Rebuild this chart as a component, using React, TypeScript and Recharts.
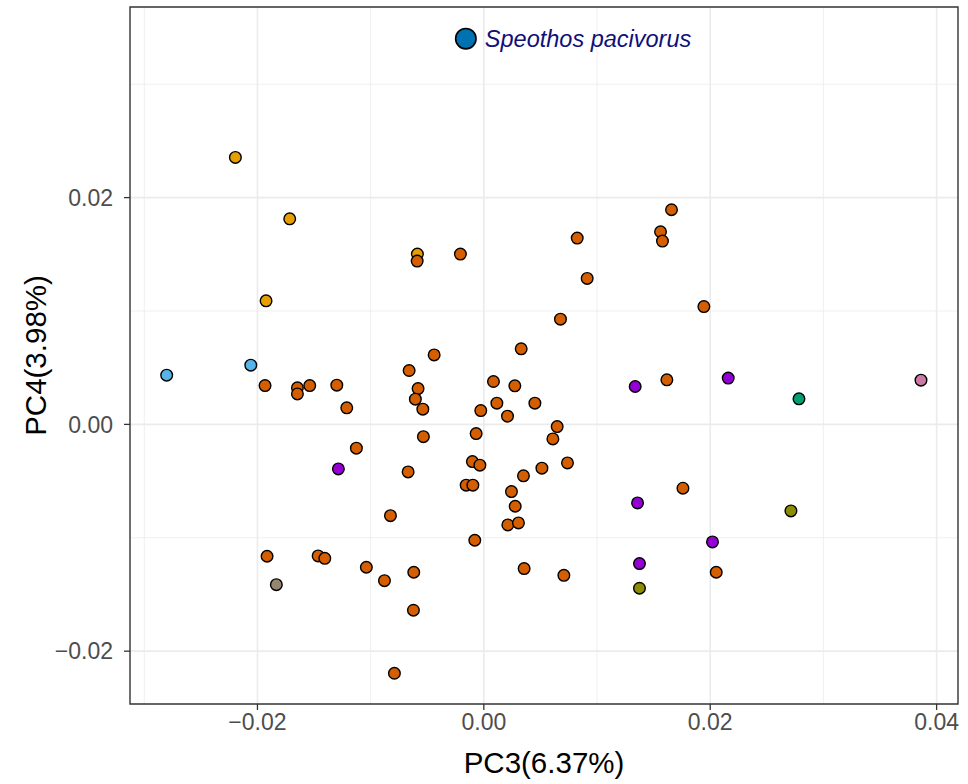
import {
  CartesianGrid,
  Label,
  ReferenceArea,
  Scatter,
  ScatterChart,
  XAxis,
  YAxis,
} from 'recharts'

type Pt = { x: number; y: number }

const xDomain = [-0.03126, 0.04189]
const yDomain = [-0.02466, 0.03681]
const xTicks = [-0.02, 0, 0.02, 0.04]
const yTicks = [-0.02, 0, 0.02]
const xMinor = [-0.03, -0.01, 0.01, 0.03]
const yMinor = [-0.01, 0.01, 0.03]

const xLabel = 'PC3(6.37%)'
const yLabel = 'PC4(3.98%)'
const highlightName = 'Speothos pacivorus'

const yellowPts: Pt[] = [
  { x: -0.02195, y: 0.02354 },
  { x: -0.01715, y: 0.01813 },
  { x: -0.01924, y: 0.0109 },
  { x: -0.00587, y: 0.01502 },
]

const skyPts: Pt[] = [
  { x: -0.02802, y: 0.00434 },
  { x: -0.02059, y: 0.00522 },
]

const orangePts: Pt[] = [
  { x: -0.00589, y: 0.0144 },
  { x: -0.00207, y: 0.01502 },
  { x: -0.01933, y: 0.00342 },
  { x: -0.01647, y: 0.00322 },
  { x: -0.01647, y: 0.00269 },
  { x: -0.01538, y: 0.00342 },
  { x: -0.01299, y: 0.00346 },
  { x: -0.01211, y: 0.00146 },
  { x: -0.00439, y: 0.00613 },
  { x: -0.0066, y: 0.00475 },
  { x: -0.00581, y: 0.00316 },
  { x: -0.00605, y: 0.00222 },
  { x: -0.00539, y: 0.00134 },
  { x: 0.0033, y: 0.00666 },
  { x: 0.00085, y: 0.00378 },
  { x: 0.00274, y: 0.0034 },
  { x: 0.00115, y: 0.00187 },
  { x: 0.00451, y: 0.00187 },
  { x: -0.00027, y: 0.00122 },
  { x: 0.00209, y: 0.00072 },
  { x: -0.00534, y: -0.00108 },
  { x: -0.00068, y: -0.00081 },
  { x: 0.0061, y: -0.00128 },
  { x: 0.00648, y: -0.00019 },
  { x: -0.01126, y: -0.0021 },
  { x: -0.00669, y: -0.00419 },
  { x: -0.00101, y: -0.00328 },
  { x: -0.00035, y: -0.0036 },
  { x: 0.0035, y: -0.00454 },
  { x: 0.00513, y: -0.00386 },
  { x: 0.00739, y: -0.0034 },
  { x: -0.00156, y: -0.00536 },
  { x: -0.00097, y: -0.00536 },
  { x: 0.00244, y: -0.00593 },
  { x: 0.00277, y: -0.00722 },
  { x: 0.00212, y: -0.00887 },
  { x: 0.00306, y: -0.00869 },
  { x: -0.00825, y: -0.00805 },
  { x: -0.0008, y: -0.01022 },
  { x: -0.01915, y: -0.01163 },
  { x: -0.01464, y: -0.0116 },
  { x: -0.01405, y: -0.01181 },
  { x: -0.01038, y: -0.0126 },
  { x: -0.00878, y: -0.01378 },
  { x: -0.00619, y: -0.01304 },
  { x: 0.00356, y: -0.01272 },
  { x: -0.00622, y: -0.01639 },
  { x: -0.0079, y: -0.02195 },
  { x: 0.01658, y: 0.01893 },
  { x: 0.00825, y: 0.01643 },
  { x: 0.01561, y: 0.01699 },
  { x: 0.01578, y: 0.01617 },
  { x: 0.00913, y: 0.01287 },
  { x: 0.00677, y: 0.00928 },
  { x: 0.01944, y: 0.01039 },
  { x: 0.01617, y: 0.00393 },
  { x: 0.01759, y: -0.00563 },
  { x: 0.00707, y: -0.01331 },
  { x: 0.02053, y: -0.01304 },
]

const grayPts: Pt[] = [{ x: -0.01833, y: -0.01414 }]

const purplePts: Pt[] = [
  { x: -0.01285, y: -0.00393 },
  { x: 0.01337, y: 0.00334 },
  { x: 0.02159, y: 0.00408 },
  { x: 0.01358, y: -0.00693 },
  { x: 0.0202, y: -0.01037 },
  { x: 0.01375, y: -0.01228 },
]

const olivePts: Pt[] = [
  { x: 0.01375, y: -0.01445 },
  { x: 0.02713, y: -0.00763 },
]

const tealPts: Pt[] = [{ x: 0.02784, y: 0.00225 }]
const pinkPts: Pt[] = [{ x: 0.03862, y: 0.0039 }]
const highlightPts: Pt[] = [{ x: -0.00159, y: 0.03402 }]

const groups = [
  { name: 'yellow', data: yellowPts, color: '#E69F00' },
  { name: 'sky', data: skyPts, color: '#56B4E9' },
  { name: 'orange', data: orangePts, color: '#D55E00' },
  { name: 'gray', data: grayPts, color: '#948670' },
  { name: 'purple', data: purplePts, color: '#9400D3' },
  { name: 'olive', data: olivePts, color: '#8C8C00' },
  { name: 'teal', data: tealPts, color: '#009E73' },
  { name: 'pink', data: pinkPts, color: '#CC79A7' },
]

const fmt = (v: number) => (v < 0 ? '\u2212' + Math.abs(v).toFixed(2) : v.toFixed(2))

const dot = (color: string) => (props: any) => (
  <circle cx={props.cx} cy={props.cy} r={5.8} fill={color} stroke="#000" strokeWidth={1.4} />
)

const highlightDot = (props: any) => (
  <g>
    <circle cx={props.cx} cy={props.cy} r={10.2} fill="#0072B2" stroke="#000" strokeWidth={1.6} />
    <text
      x={props.cx + 19}
      y={props.cy + 8.5}
      fontSize={23.5}
      fontStyle="italic"
      fill="#10107A"
    >
      {highlightName}
    </text>
  </g>
)

export default function App() {
  return (
    <div
      style={{
        position: 'absolute',
        left: 0,
        top: 0,
        width: 968,
        height: 784,
        background: '#fff',
        fontFamily: '"Liberation Sans", Arial, sans-serif',
      }}
    >
      <ScatterChart width={968} height={784} margin={{ top: 7, right: 10, bottom: 0, left: 0 }}>
        <CartesianGrid
          stroke="#EBEBEB"
          strokeWidth={0.8}
          horizontalValues={yMinor}
          verticalValues={xMinor}
        />
        <CartesianGrid
          stroke="#EBEBEB"
          strokeWidth={1.6}
          horizontalValues={yTicks}
          verticalValues={xTicks}
        />
        <XAxis
          type="number"
          dataKey="x"
          domain={xDomain}
          ticks={xTicks}
          allowDataOverflow
          height={80}
          axisLine={false}
          tickLine={{ stroke: '#333', strokeWidth: 1.3 }}
          tickSize={6}
          tickMargin={4}
          tickFormatter={fmt}
          tick={{ fill: '#4D4D4D', fontSize: 23 }}
          interval={0}
        >
          <Label value={xLabel} position="insideBottom" offset={11} fontSize={29.5} fill="#000" />
        </XAxis>
        <YAxis
          type="number"
          dataKey="y"
          domain={yDomain}
          ticks={yTicks}
          allowDataOverflow
          width={130}
          axisLine={false}
          tickLine={{ stroke: '#333', strokeWidth: 1.3 }}
          tickSize={6}
          tickMargin={11}
          tickFormatter={fmt}
          tick={{ fill: '#4D4D4D', fontSize: 23 }}
          interval={0}
        >
          <Label
            content={({ viewBox }: any) => {
              const cx = viewBox.x + 35
              const cy = viewBox.y + viewBox.height / 2
              return (
                <text
                  x={cx}
                  y={cy}
                  transform={`rotate(-90 ${cx} ${cy})`}
                  textAnchor="middle"
                  dominantBaseline="central"
                  fontSize={29.5}
                  fill="#000"
                >
                  {yLabel}
                </text>
              )
            }}
          />
        </YAxis>
        {groups.map((g) => (
          <Scatter
            key={g.name}
            name={g.name}
            data={g.data}
            shape={dot(g.color)}
            isAnimationActive={false}
          />
        ))}
        <Scatter name="highlight" data={highlightPts} shape={highlightDot} isAnimationActive={false} />
        <ReferenceArea
          x1={xDomain[0]}
          x2={xDomain[1]}
          y1={yDomain[0]}
          y2={yDomain[1]}
          fill="none"
          fillOpacity={0}
          stroke="#333"
          strokeWidth={1.4}
        />
      </ScatterChart>
    </div>
  )
}
